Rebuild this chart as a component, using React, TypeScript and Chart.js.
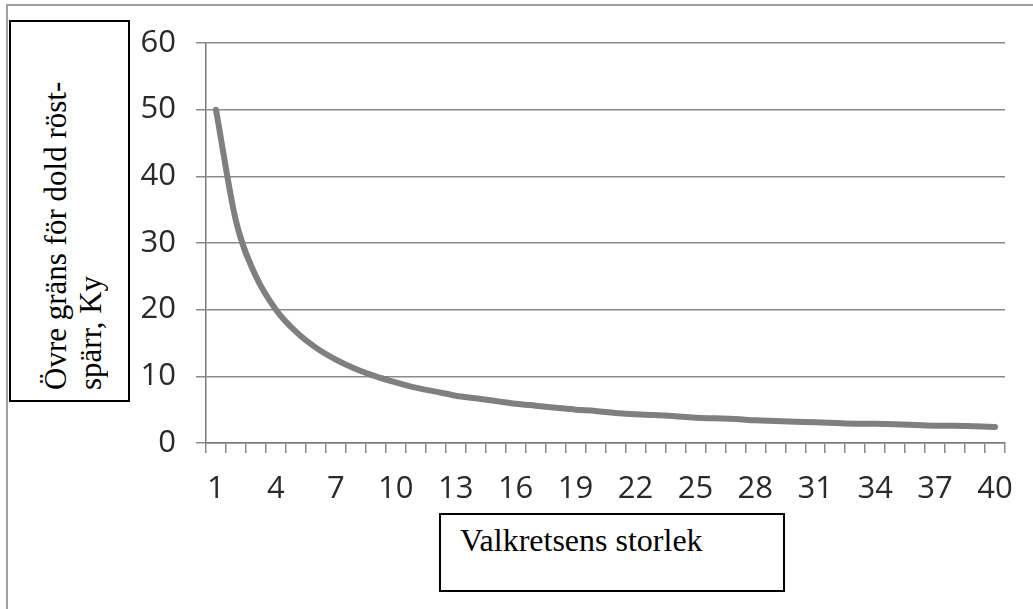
import React, { useEffect, useRef } from "react";
import { Chart, registerables } from "chart.js";

Chart.register(...registerables);

const categories: string[] = [
  "1", "2", "3", "4", "5", "6", "7", "8", "9", "10",
  "11", "12", "13", "14", "15", "16", "17", "18", "19", "20",
  "21", "22", "23", "24", "25", "26", "27", "28", "29", "30",
  "31", "32", "33", "34", "35", "36", "37", "38", "39", "40",
];

const kyValues: number[] = [
  50, 33.3, 25, 20, 16.7, 14.3, 12.5, 11.1, 10, 9.1,
  8.3, 7.7, 7.1, 6.7, 6.3, 5.9, 5.6, 5.3, 5.0, 4.8,
  4.5, 4.3, 4.2, 4.0, 3.8, 3.7, 3.6, 3.4, 3.3, 3.2,
  3.1, 3.0, 2.9, 2.9, 2.8, 2.7, 2.6, 2.6, 2.5, 2.4,
];

const yTicks: number[] = [0, 10, 20, 30, 40, 50, 60];

const yTitleLines: string[] = ["Övre gräns för dold röst-", "spärr, Ky"];
const xTitle = "Valkretsens storlek";

export default function App() {
  const canvasRef = useRef<HTMLCanvasElement | null>(null);

  useEffect(() => {
    document.body.style.margin = "0";
    const canvas = canvasRef.current;
    if (!canvas) return;
    const chart = new Chart(canvas, {
      type: "line",
      data: {
        labels: categories,
        datasets: [
          {
            data: kyValues,
            borderColor: "#7f7f7f",
            borderWidth: 6,
            pointRadius: 0,
            cubicInterpolationMode: "monotone",
            borderCapStyle: "round",
            borderJoinStyle: "round",
            fill: false,
          },
        ],
      },
      options: {
        animation: false,
        responsive: true,
        maintainAspectRatio: false,
        layout: { padding: { top: 43, right: 28, left: 0, bottom: 66 } },
        plugins: { legend: { display: false }, tooltip: { enabled: false } },
        scales: {
          x: {
            offset: true,
            grid: {
              display: true,
              drawOnChartArea: false,
              drawTicks: true,
              tickLength: 10,
              offset: true,
              color: "#8a8a8a",
              lineWidth: 1.5,
            },
            border: { display: true, color: "#7a7a7a", width: 1.5 },
            ticks: {
              autoSkip: false,
              maxRotation: 0,
              minRotation: 0,
              padding: 18,
              color: "#2a2a2a",
              font: { family: "'Open Sans', sans-serif", size: 31 },
              callback: (_v: any, i: number) =>
                i % 3 === 0 ? categories[i] : "",
            },
            afterFit: (scale: any) => {
              scale.height = 100;
            },
          },
          y: {
            min: yTicks[0],
            max: yTicks[yTicks.length - 1],
            grid: {
              color: "#8a8a8a",
              lineWidth: 1.5,
              drawTicks: true,
              tickLength: 10,
            },
            border: { display: true, color: "#7a7a7a", width: 1.5 },
            afterBuildTicks: (scale: any) => {
              scale.ticks = yTicks.map((v) => ({ value: v }));
            },
            ticks: {
              padding: 20,
              color: "#2a2a2a",
              font: { family: "'Open Sans', sans-serif", size: 31 },
            },
            afterFit: (scale: any) => {
              scale.width = 206;
            },
          },
        },
      },
    });
    return () => chart.destroy();
  }, []);

  const serif = "'Liberation Serif', 'Times New Roman', serif";

  return (
    <div
      style={{
        position: "absolute",
        left: 0,
        top: 0,
        width: 1033,
        height: 609,
        background: "#ffffff",
        overflow: "hidden",
      }}
    >
      <div
        style={{
          position: "absolute",
          left: 6,
          top: 4,
          width: 1040,
          height: 620,
          borderLeft: "2px solid #a0a0a0",
          borderTop: "2px solid #a0a0a0",
        }}
      />
      <canvas
        ref={canvasRef}
        style={{ position: "absolute", left: 0, top: 0, width: 1033, height: 609 }}
      />
      <div
        style={{
          position: "absolute",
          left: 9,
          top: 20,
          width: 121,
          height: 382,
          boxSizing: "border-box",
          border: "2px solid #000",
          background: "#fff",
        }}
      >
        <div
          style={{
            position: "absolute",
            left: 27,
            bottom: 10,
            height: 370,
            writingMode: "vertical-rl",
            transform: "rotate(180deg)",
            fontFamily: serif,
            fontSize: 31,
            lineHeight: "35px",
            color: "#000",
            whiteSpace: "nowrap",
            textAlign: "left",
          }}
        >
          {yTitleLines.map((l, i) => (
            <div key={i}>{l}</div>
          ))}
        </div>
      </div>
      <div
        style={{
          position: "absolute",
          left: 439,
          top: 513,
          width: 346,
          height: 79,
          boxSizing: "border-box",
          border: "2px solid #000",
          background: "#fff",
          paddingLeft: 19,
          paddingTop: 8,
          fontFamily: serif,
          fontSize: 32,
          lineHeight: "35px",
          color: "#000",
          whiteSpace: "nowrap",
        }}
      >
        {xTitle}
      </div>
    </div>
  );
}
